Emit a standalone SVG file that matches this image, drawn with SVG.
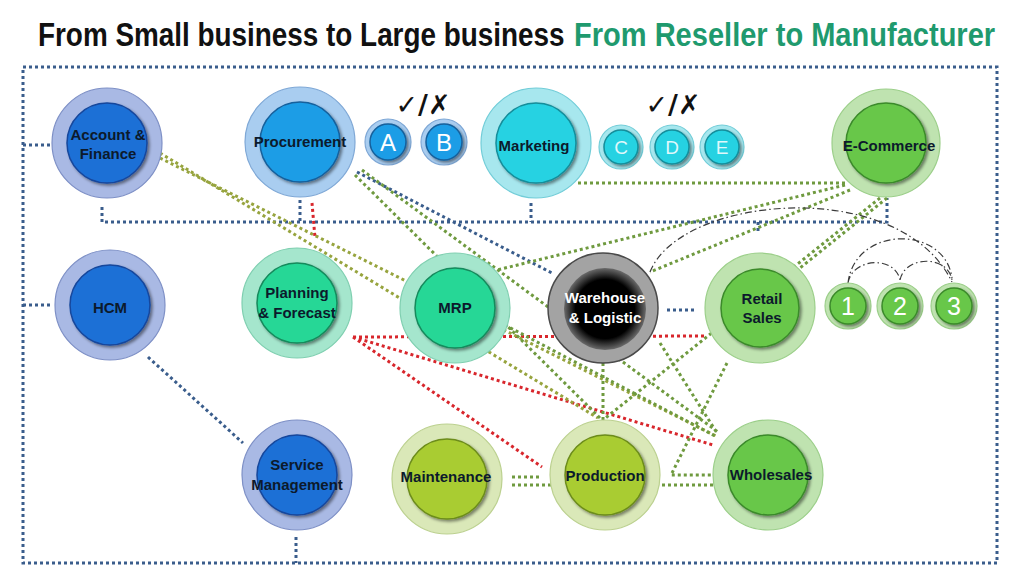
<svg xmlns="http://www.w3.org/2000/svg" width="1024" height="577" viewBox="0 0 1024 577">
<defs>
<filter id="sh" x="-30%" y="-30%" width="160%" height="160%"><feDropShadow dx="2" dy="2" stdDeviation="1.6" flood-color="#000" flood-opacity="0.45"/></filter>
<radialGradient id="wh" cx="50%" cy="50%" r="50%"><stop offset="0.72" stop-color="#000"/><stop offset="1" stop-color="#6a6a6a"/></radialGradient>
<style>
.nv{fill:none;stroke:#3a5d8c;stroke-width:3;stroke-dasharray:3 3}
.gr{fill:none;stroke:#6f9a3f;stroke-width:3;stroke-dasharray:3 3}
.yg{fill:none;stroke:#97a43e;stroke-width:3;stroke-dasharray:3 3}
.rd{fill:none;stroke:#d8262c;stroke-width:3;stroke-dasharray:3 3}
.dd{fill:none;stroke:#3a3a3a;stroke-width:1.2;stroke-dasharray:7 3 1.5 3}
.ob{fill:#a9b9e4;stroke:#7e90c6;stroke-width:1.2}
.ib{fill:#1f6fd6;stroke:#15479c;stroke-width:1.5}
.op{fill:#a9cdf0;stroke:#7fa8d6;stroke-width:1.2}
.ip{fill:#1f9de6;stroke:#14609c;stroke-width:1.5}
.oc{fill:#a7e7ee;stroke:#72cdd8;stroke-width:1.2}
.ic{fill:#26d2e2;stroke:#138d9a;stroke-width:1.5}
.ot{fill:#a5e6cd;stroke:#7fcfb0;stroke-width:1.2}
.it{fill:#27d796;stroke:#148a5c;stroke-width:1.5}
.og{fill:#bfe3b0;stroke:#9ccf8a;stroke-width:1.2}
.ig{fill:#68c74a;stroke:#3b8a2a;stroke-width:1.5}
.oy{fill:#dae8b8;stroke:#bcd190;stroke-width:1.2}
.iy{fill:#a9cc32;stroke:#6c8c1a;stroke-width:1.5}
.t{font-family:"Liberation Sans",Arial,sans-serif;font-size:15px;font-weight:bold;fill:#0c1a2c;text-anchor:middle}
.tw{fill:#ffffff}
.L{font-family:"Liberation Sans",Arial,sans-serif;font-size:24px;fill:#ffffff;text-anchor:middle}
.mk{font-family:"DejaVu Sans",sans-serif;font-size:27px;font-weight:bold;fill:#111;text-anchor:middle}
.title{font-family:"Liberation Sans",Arial,sans-serif;font-size:33px;font-weight:bold}
</style>
</defs>
<rect width="1024" height="577" fill="#ffffff"/>
<g id="title">
<text class="title" transform="translate(38,46) scale(0.845,1)" fill="#111111">From Small business to Large business</text>
<text class="title" transform="translate(574,46) scale(0.88,1)" fill="#1f9a6e">From Reseller to Manufacturer</text>
</g>
<g id="connectors">
<rect class="nv" x="23" y="67" width="974" height="496"/>
<path class="nv" d="M23,145 H50 M23,305 H53 M102,207 V222 H887 V198 M300,200 V222 M531,203 V222 M758,222 V234 M357,172 L552,273 M667,310 H697 M148,357 L243,443 M296,537 V563"/>
<path class="rd" d="M312,203 L315,238 M353,337 L707,336 M353,337 L713,445 M353,337 L542,467"/>
<path class="yg" d="M160,153 L598,418 M160,158 L716,436"/>
<path class="gr" d="M355,175 L600,418 M362,170 L718,432 M578,183 H846 M845,185 L497,270 M850,190 L650,272 M887,198 L800,268 M880,198 L603,420 M603,363 V420 M660,343 L717,433 M727,363 L671,475 H713 M505,325 L717,437 M512,477 H542 M512,485 H722"/>
<path class="dd" d="M650,272 C680,195 900,175 952,282 M848,283 C852,258 895,255 900,280 M900,280 C905,255 948,255 952,280 M848,283 C855,225 945,225 952,278"/>
</g>
<g id="account-finance"><circle class="ob" cx="107" cy="143" r="55"/><circle class="ib" cx="107" cy="143" r="40" filter="url(#sh)"/><text class="t" x="108" y="140">Account &amp;</text><text class="t" x="108" y="159">Finance</text></g>
<g id="procurement"><circle class="op" cx="300" cy="142" r="55"/><circle class="ip" cx="300" cy="142" r="40" filter="url(#sh)"/><text class="t" x="300" y="147">Procurement</text></g>
<g id="check-ab"><text class="mk" x="423" y="114">✓/✗</text></g>
<g id="node-a"><circle class="op" cx="388" cy="142" r="23"/><circle class="ip" cx="388" cy="142" r="18" filter="url(#sh)"/><text class="L" x="388" y="151">A</text></g>
<g id="node-b"><circle class="op" cx="444" cy="142" r="23"/><circle class="ip" cx="444" cy="142" r="18" filter="url(#sh)"/><text class="L" x="444" y="151">B</text></g>
<g id="marketing"><circle class="oc" cx="536" cy="143" r="55"/><circle class="ic" cx="536" cy="143" r="40" filter="url(#sh)"/><text class="t" x="534" y="151">Marketing</text></g>
<g id="check-cde"><text class="mk" x="673" y="114">✓/✗</text></g>
<g id="node-c"><circle class="oc" cx="621" cy="147" r="22"/><circle class="ic" cx="621" cy="147" r="17" filter="url(#sh)"/><text class="L" x="621" y="154" style="font-size:19px;fill:#dff8fb">C</text></g>
<g id="node-d"><circle class="oc" cx="672" cy="147" r="22"/><circle class="ic" cx="672" cy="147" r="17" filter="url(#sh)"/><text class="L" x="672" y="154" style="font-size:19px;fill:#dff8fb">D</text></g>
<g id="node-e"><circle class="oc" cx="722" cy="147" r="22"/><circle class="ic" cx="722" cy="147" r="17" filter="url(#sh)"/><text class="L" x="722" y="154" style="font-size:19px;fill:#dff8fb">E</text></g>
<g id="e-commerce"><circle class="og" cx="886" cy="143" r="54"/><circle class="ig" cx="886" cy="143" r="40" filter="url(#sh)"/><text class="t" x="889" y="151">E-Commerce</text></g>
<g id="hcm"><circle class="ob" cx="110" cy="305" r="55"/><circle class="ib" cx="110" cy="305" r="40" filter="url(#sh)"/><text class="t" x="110" y="313">HCM</text></g>
<g id="planning-forecast"><circle class="ot" cx="297" cy="303" r="55"/><circle class="it" cx="297" cy="303" r="40" filter="url(#sh)"/><text class="t" x="297" y="298">Planning</text><text class="t" x="297" y="318">&amp; Forecast</text></g>
<g id="mrp"><circle class="ot" cx="455" cy="308" r="55"/><circle class="it" cx="455" cy="308" r="40" filter="url(#sh)"/><text class="t" x="455" y="313">MRP</text></g>
<g id="warehouse-logistic"><circle cx="603" cy="308" r="55" fill="#a3a3a3" stroke="#4a4a4a" stroke-width="1.5"/><circle cx="605" cy="309" r="41" fill="url(#wh)"/><text class="t tw" x="605" y="303">Warehouse</text><text class="t tw" x="605" y="323">&amp; Logistic</text></g>
<g id="retail-sales"><circle class="og" cx="760" cy="308" r="55"/><circle class="ig" cx="760" cy="308" r="39" filter="url(#sh)"/><text class="t" x="762" y="304">Retail</text><text class="t" x="762" y="323">Sales</text></g>
<g id="node-1"><circle class="og" cx="848" cy="306" r="23"/><circle class="ig" cx="848" cy="306" r="18" filter="url(#sh)"/><text class="L" x="848" y="315" style="font-size:25px">1</text></g>
<g id="node-2"><circle class="og" cx="900" cy="306" r="23"/><circle class="ig" cx="900" cy="306" r="18" filter="url(#sh)"/><text class="L" x="900" y="315" style="font-size:25px">2</text></g>
<g id="node-3"><circle class="og" cx="954" cy="306" r="23"/><circle class="ig" cx="954" cy="306" r="18" filter="url(#sh)"/><text class="L" x="954" y="315" style="font-size:25px">3</text></g>
<g id="service-management"><circle class="ob" cx="297" cy="475" r="55"/><circle class="ib" cx="297" cy="475" r="40" filter="url(#sh)"/><text class="t" x="297" y="470">Service</text><text class="t" x="297" y="490">Management</text></g>
<g id="maintenance"><circle class="oy" cx="447" cy="479" r="55"/><circle class="iy" cx="447" cy="479" r="40" filter="url(#sh)"/><text class="t" x="446" y="482">Maintenance</text></g>
<g id="production"><circle class="oy" cx="605" cy="475" r="55"/><circle class="iy" cx="605" cy="475" r="40" filter="url(#sh)"/><text class="t" x="605" y="481">Production</text></g>
<g id="wholesales"><circle class="og" cx="768" cy="475" r="55"/><circle class="ig" cx="768" cy="475" r="40" filter="url(#sh)"/><text class="t" x="771" y="480">Wholesales</text></g>
</svg>
